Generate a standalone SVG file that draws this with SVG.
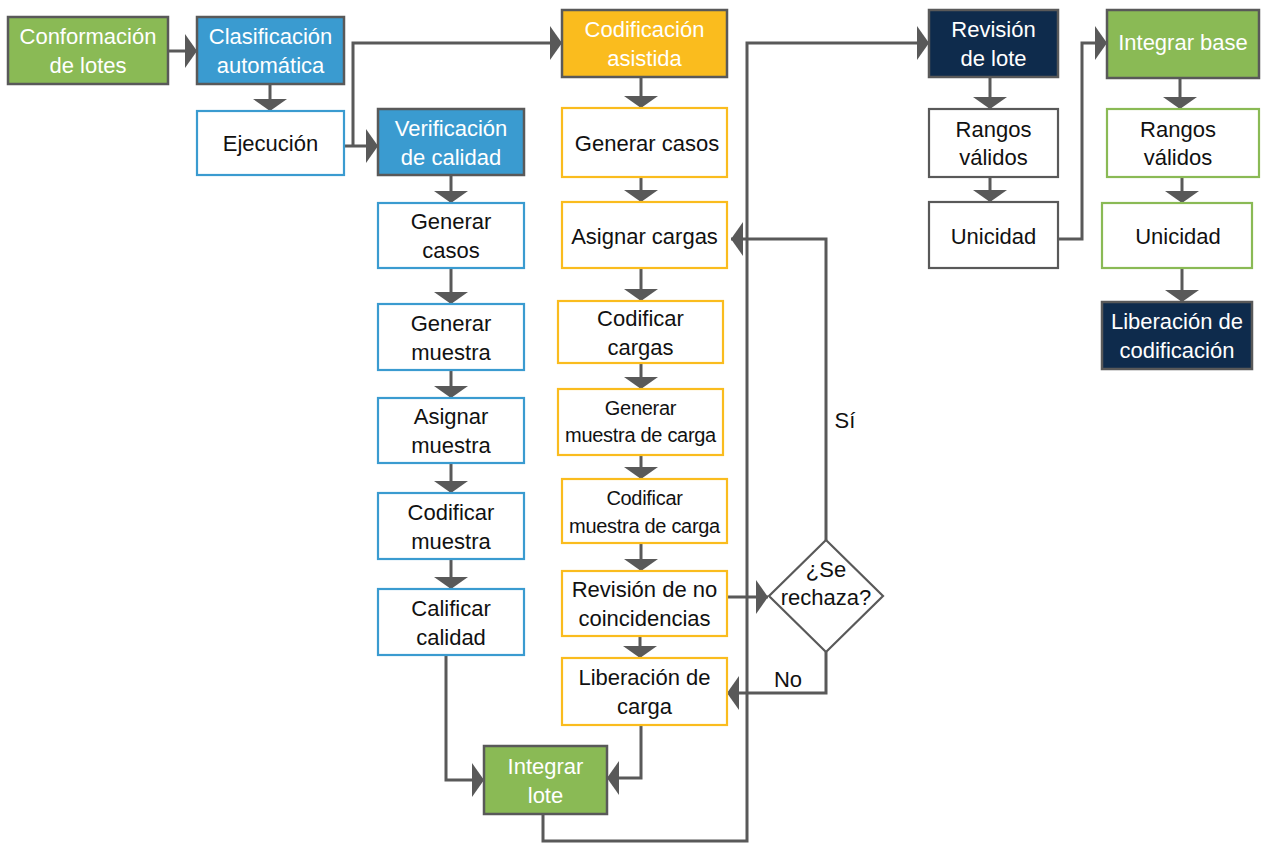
<svg xmlns="http://www.w3.org/2000/svg" width="1263" height="843" viewBox="0 0 1263 843">
  <defs>
    <marker id="arrow" markerUnits="userSpaceOnUse" markerWidth="12" markerHeight="34" refX="12" refY="17" orient="auto">
      <path d="M0,0 L12,17 L0,34 Z" fill="#595959"/>
    </marker>
    <style>
      .box rect, .box polygon { stroke-width: 2.2; }
      .green rect { fill: #8aba55; stroke: #595959; stroke-width: 2.5; }
      .blue rect { fill: #3a9bd0; stroke: #595959; stroke-width: 2.5; }
      .yellow rect { fill: #fabc1e; stroke: #595959; stroke-width: 2.5; }
      .navy rect { fill: #0e2b4c; stroke: #595959; stroke-width: 2.5; }
      .wblue rect { fill: #ffffff; stroke: #3a9bd0; }
      .wyellow rect { fill: #ffffff; stroke: #fabc1e; }
      .wgray rect, .wgray polygon { fill: #ffffff; stroke: #595959; }
      .wgreen rect { fill: #ffffff; stroke: #8aba55; }
      text { font-family: "Liberation Sans", Arial, sans-serif; font-size: 22px; text-anchor: middle; fill: #111111; }
      .green text, .blue text, .yellow text, .navy text { fill: #ffffff; }
      .tight text { font-size: 20px; letter-spacing: -0.3px; }
      .conn path { fill: none; stroke: #595959; stroke-width: 3; marker-end: url(#arrow); }
      .lbl { font-size: 22px; }
    </style>
  </defs>

  <!-- connectors -->
  <g id="connectors" class="conn">
    <path d="M168,51 H197"/>
    <path d="M270,84 V111"/>
    <path d="M344,146 H378"/>
    <path d="M353,146 V43 H562"/>
    <path d="M451,175 V203"/>
    <path d="M451,268 V304"/>
    <path d="M451,370 V398"/>
    <path d="M451,463 V493"/>
    <path d="M451,559 V589"/>
    <path d="M446,655 V780 H484"/>
    <path d="M641,77 V108"/>
    <path d="M641,177 V202"/>
    <path d="M641,268 V301"/>
    <path d="M641,363 V389"/>
    <path d="M641,455 V479"/>
    <path d="M641,543 V571"/>
    <path d="M640,636 V658"/>
    <path d="M727,597 H768"/>
    <path d="M826,540 V239 H731"/>
    <path d="M826,652 V693 H727"/>
    <path d="M641,725 V778 H607"/>
    <path d="M543,814 V841 H747 V43 H929"/>
    <path d="M990,77 V109"/>
    <path d="M990,177 V202"/>
    <path d="M1058,239 H1082 V43 H1107"/>
    <path d="M1180,78 V109"/>
    <path d="M1182,177 V203"/>
    <path d="M1182,268 V302"/>
    <text class="lbl" x="845" y="428">Sí</text>
    <text class="lbl" x="788" y="687">No</text>
  </g>

  <!-- first column -->
  <g id="conformacion" class="box green">
    <rect x="8" y="17" width="160" height="67"/>
    <text x="88" y="44">Conformación</text>
    <text x="88" y="73">de lotes</text>
  </g>
  <g id="clasificacion" class="box blue">
    <rect x="197" y="17" width="147" height="67"/>
    <text x="270.5" y="44">Clasificación</text>
    <text x="270.5" y="73">automática</text>
  </g>
  <g id="ejecucion" class="box wblue">
    <rect x="197" y="111" width="147" height="64"/>
    <text x="270.5" y="151">Ejecución</text>
  </g>

  <!-- quality check column -->
  <g id="verificacion" class="box blue">
    <rect x="378" y="109" width="146" height="66"/>
    <text x="451" y="136">Verificación</text>
    <text x="451" y="165">de calidad</text>
  </g>
  <g id="generar-casos-v" class="box wblue">
    <rect x="378" y="203" width="146" height="65"/>
    <text x="451" y="229">Generar</text>
    <text x="451" y="258">casos</text>
  </g>
  <g id="generar-muestra" class="box wblue">
    <rect x="378" y="304" width="146" height="66"/>
    <text x="451" y="330.5">Generar</text>
    <text x="451" y="359.5">muestra</text>
  </g>
  <g id="asignar-muestra" class="box wblue">
    <rect x="378" y="398" width="146" height="65"/>
    <text x="451" y="424">Asignar</text>
    <text x="451" y="453">muestra</text>
  </g>
  <g id="codificar-muestra" class="box wblue">
    <rect x="378" y="493" width="146" height="66"/>
    <text x="451" y="519.5">Codificar</text>
    <text x="451" y="548.5">muestra</text>
  </g>
  <g id="calificar-calidad" class="box wblue">
    <rect x="378" y="589" width="146" height="66"/>
    <text x="451" y="615.5">Calificar</text>
    <text x="451" y="644.5">calidad</text>
  </g>

  <!-- assisted coding column -->
  <g id="codificacion-asistida" class="box yellow">
    <rect x="562" y="10" width="165" height="67"/>
    <text x="644.5" y="37">Codificación</text>
    <text x="644.5" y="66">asistida</text>
  </g>
  <g id="generar-casos-c" class="box wyellow">
    <rect x="562" y="108" width="165" height="69"/>
    <text x="647" y="151">Generar casos</text>
  </g>
  <g id="asignar-cargas" class="box wyellow">
    <rect x="562" y="202" width="165" height="66"/>
    <text x="644.5" y="243.5">Asignar cargas</text>
  </g>
  <g id="codificar-cargas" class="box wyellow">
    <rect x="558" y="301" width="165" height="62"/>
    <text x="640.5" y="326">Codificar</text>
    <text x="640.5" y="355">cargas</text>
  </g>
  <g id="generar-muestra-carga" class="box wyellow tight">
    <rect x="558" y="389" width="165" height="66"/>
    <text x="640.5" y="415">Generar</text>
    <text x="640.5" y="442">muestra de carga</text>
  </g>
  <g id="codificar-muestra-carga" class="box wyellow tight">
    <rect x="562" y="479" width="165" height="64"/>
    <text x="644.5" y="505">Codificar</text>
    <text x="644.5" y="533">muestra de carga</text>
  </g>
  <g id="revision-no-coincidencias" class="box wyellow">
    <rect x="562" y="571" width="165" height="65"/>
    <text x="644.5" y="597">Revisión de no</text>
    <text x="644.5" y="626">coincidencias</text>
  </g>
  <g id="liberacion-carga" class="box wyellow">
    <rect x="562" y="658" width="165" height="67"/>
    <text x="644.5" y="685">Liberación de</text>
    <text x="644.5" y="714">carga</text>
  </g>
  <g id="integrar-lote" class="box green">
    <rect x="484" y="746" width="123" height="68"/>
    <text x="545.5" y="773.5">Integrar</text>
    <text x="545.5" y="802.5">lote</text>
  </g>
  <g id="se-rechaza" class="box wgray">
    <polygon points="826,540 883,596 826,652 769,596"/>
    <text x="826" y="577">¿Se</text>
    <text x="826" y="605">rechaza?</text>
  </g>

  <!-- batch review column -->
  <g id="revision-lote" class="box navy">
    <rect x="929" y="10" width="129" height="67"/>
    <text x="993.5" y="37">Revisión</text>
    <text x="993.5" y="66">de lote</text>
  </g>
  <g id="rangos-validos-l" class="box wgray">
    <rect x="929" y="109" width="129" height="68"/>
    <text x="993.5" y="137">Rangos</text>
    <text x="993.5" y="165">válidos</text>
  </g>
  <g id="unicidad-l" class="box wgray">
    <rect x="929" y="202" width="129" height="66"/>
    <text x="993.5" y="244">Unicidad</text>
  </g>

  <!-- base integration column -->
  <g id="integrar-base" class="box green">
    <rect x="1107" y="10" width="152" height="68"/>
    <text x="1183" y="50">Integrar base</text>
  </g>
  <g id="rangos-validos-r" class="box wgreen">
    <rect x="1107" y="109" width="152" height="68"/>
    <text x="1178" y="137">Rangos</text>
    <text x="1178" y="165">válidos</text>
  </g>
  <g id="unicidad-r" class="box wgreen">
    <rect x="1102" y="203" width="150" height="65"/>
    <text x="1178" y="244">Unicidad</text>
  </g>
  <g id="liberacion-codificacion" class="box navy">
    <rect x="1102" y="302" width="150" height="67"/>
    <text x="1177" y="329">Liberación de</text>
    <text x="1177" y="358">codificación</text>
  </g>
</svg>
